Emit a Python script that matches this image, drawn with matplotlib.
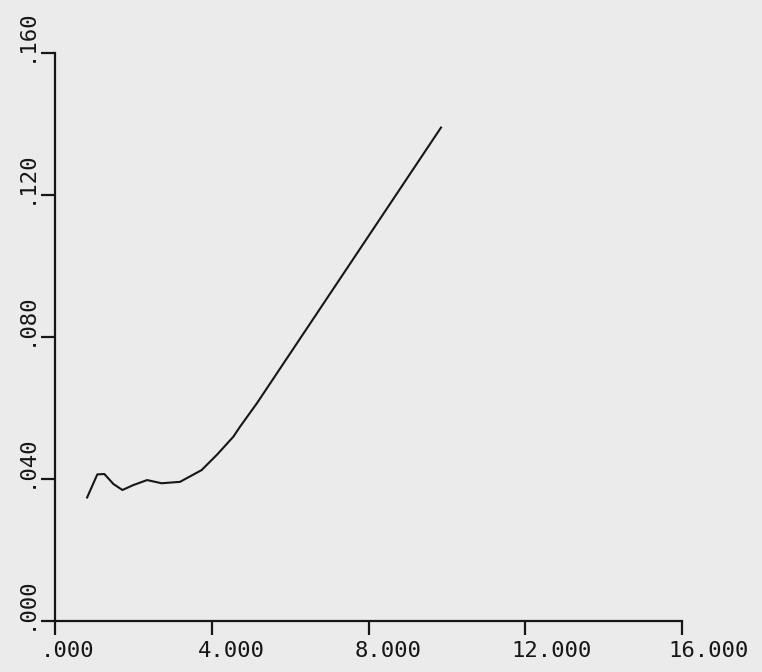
import matplotlib
matplotlib.use("Agg")
import matplotlib.pyplot as plt
from matplotlib.transforms import ScaledTranslation

# Data
x_vals = [0.82, 1.08, 1.26, 1.49, 1.72, 2.00, 2.35, 2.72, 3.19, 3.74, 4.13, 4.55, 4.72, 5.15, 9.85]
y_vals = [0.0348, 0.0413, 0.0414, 0.0386, 0.0369, 0.0383, 0.0397, 0.0388, 0.0392,
          0.0425, 0.0468, 0.0519, 0.0547, 0.0613, 0.1390]

x_ticks = [0, 4, 8, 12, 16]
x_tick_labels = [".000", "4.000", "8.000", "12.000", "16.000"]
y_ticks = [0.0, 0.04, 0.08, 0.12, 0.16]
y_tick_labels = [".000", ".040", ".080", ".120", ".160"]

bg = "#ebebeb"
ink = "#161616"
fig = plt.figure(figsize=(7.62, 6.72), dpi=100, facecolor=bg)
W, H = 762, 672
left_px, right_px, top_px, bottom_px = 55, 682, 53, 621
ax = fig.add_axes([left_px / W, (H - bottom_px) / H,
                   (right_px - left_px) / W, (bottom_px - top_px) / H])
ax.set_facecolor(bg)
ax.set_xlim(0, 16)
ax.set_ylim(0, 0.16)

ax.plot(x_vals, y_vals, color=ink, lw=1.5, solid_joinstyle="round")

for s in ["top", "right"]:
    ax.spines[s].set_visible(False)
for s in ["left", "bottom"]:
    ax.spines[s].set_color(ink)
    ax.spines[s].set_linewidth(1.6)

ax.set_xticks(x_ticks)
ax.set_yticks(y_ticks)
ax.tick_params(axis="both", direction="out", length=10, width=1.6, color=ink,
               labelbottom=False, labelleft=False)

font = dict(family="DejaVu Sans Mono", fontsize=16, color=ink)
dpi_tr = fig.dpi_scale_trans
xtr = ax.get_xaxis_transform() + ScaledTranslation(-14 / 100, -20 / 100, dpi_tr)
for t, lab in zip(x_ticks, x_tick_labels):
    ax.text(t, 0, lab, transform=xtr, ha="left", va="top", **font)

ytr = ax.get_yaxis_transform() + ScaledTranslation(-29 / 100, -9 / 100, dpi_tr)
for t, lab in zip(y_ticks, y_tick_labels):
    ax.text(0, t, lab, transform=ytr, rotation=90, rotation_mode="anchor",
            ha="left", va="center", **font)

fig.savefig("out.png", dpi=100, facecolor=bg)
